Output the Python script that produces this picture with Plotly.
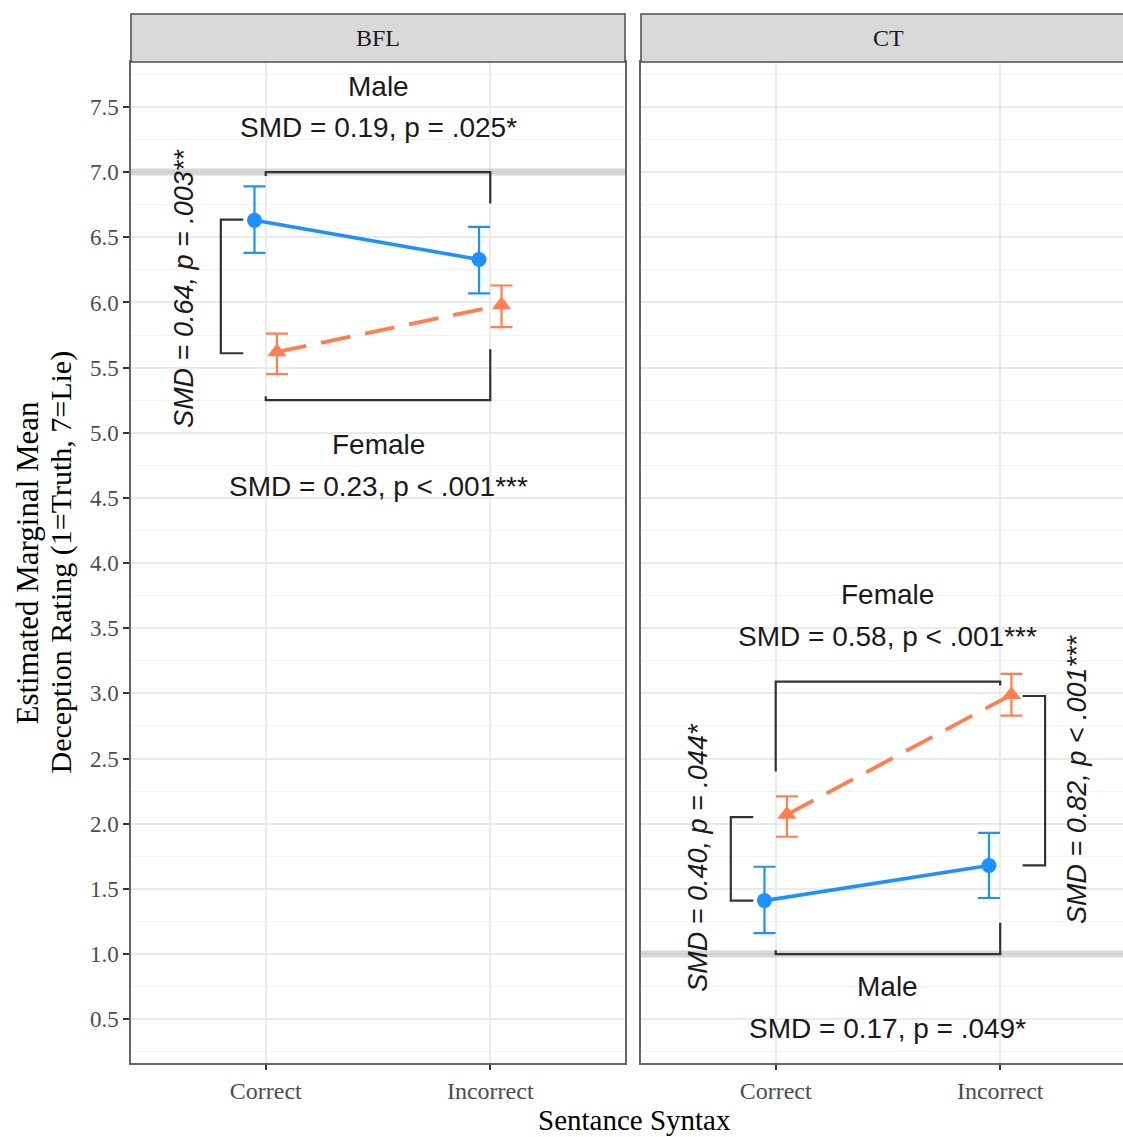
import plotly.graph_objects as go

# ---------------- data ----------------
panels = ["BFL", "CT"]
categories = ["Correct", "Incorrect"]
cat_pos = [0, 1]
dodge = 0.05

male_mean = {"BFL": [6.63, 6.33], "CT": [1.41, 1.68]}
male_lo = {"BFL": [6.38, 6.07], "CT": [1.16, 1.43]}
male_hi = {"BFL": [6.89, 6.58], "CT": [1.67, 1.93]}

female_mean = {"BFL": [5.62, 5.98], "CT": [2.07, 2.99]}
female_lo = {"BFL": [5.45, 5.81], "CT": [1.90, 2.83]}
female_hi = {"BFL": [5.76, 6.13], "CT": [2.21, 3.15]}

y_ticks = [0.5, 1.0, 1.5, 2.0, 2.5, 3.0, 3.5, 4.0, 4.5, 5.0, 5.5, 6.0, 6.5, 7.0, 7.5]
ref_line_y = {"BFL": 7.0, "CT": 1.0}

# brackets: (x list, y list)
brackets = {
    "BFL": [
        ([0, 0, 1, 1], [6.97, 7.0, 7.0, 6.76]),
        ([0, 0, 1, 1], [5.28, 5.25, 5.25, 5.64]),
        ([-0.1, -0.2, -0.2, -0.1], [6.635, 6.635, 5.61, 5.61]),
    ],
    "CT": [
        ([0, 0, 1, 1], [2.40, 3.09, 3.09, 3.06]),
        ([0, 0, 1, 1], [1.03, 1.0, 1.0, 1.24]),
        ([-0.1, -0.2, -0.2, -0.1], [2.05, 2.05, 1.41, 1.41]),
        ([1.1, 1.2, 1.2, 1.1], [2.98, 2.98, 1.68, 1.68]),
    ],
}

# labels: (x, y, text, angle)
labels = {
    "BFL": [
        (0.5, 7.66, "Male", 0),
        (0.5, 7.34, "SMD = 0.19, p = .025*", 0),
        (0.5, 4.91, "Female", 0),
        (0.5, 4.59, "SMD = 0.23, p < .001***", 0),
        (-0.365, 6.11, "<i>SMD = 0.64, p = .003**</i>", -90),
    ],
    "CT": [
        (0.5, 3.76, "Female", 0),
        (0.5, 3.44, "SMD = 0.58, p < .001***", 0),
        (0.5, 0.75, "Male", 0),
        (0.5, 0.43, "SMD = 0.17, p = .049*", 0),
        (-0.35, 1.74, "<i>SMD = 0.40, p = .044*</i>", -90),
        (1.345, 2.34, "<i>SMD = 0.82, p < .001***</i>", -90),
    ],
}

BLUE = "#1E90FF"
ORANGE = "#FF7F50"
BRACKET = "#333333"

fig = go.Figure()
axis_ids = {"BFL": ("x", "y"), "CT": ("x2", "y2")}

for p in panels:
    xa, ya = axis_ids[p]
    fig.add_trace(go.Scatter(
        x=[-0.6, 1.6], y=[ref_line_y[p]] * 2, mode="lines",
        line=dict(color="rgba(200,200,200,0.7)", width=7),
        xaxis=xa, yaxis=ya, hoverinfo="skip", showlegend=False))
    for bx, by in brackets[p]:
        fig.add_trace(go.Scatter(
            x=bx, y=by, mode="lines", line=dict(color=BRACKET, width=2.2),
            xaxis=xa, yaxis=ya, hoverinfo="skip", showlegend=False))
    # Male
    m = male_mean[p]
    fig.add_trace(go.Scatter(
        x=[c - dodge for c in cat_pos], y=m, mode="lines+markers",
        line=dict(color=BLUE, width=3.6),
        marker=dict(symbol="circle", size=15, color=BLUE),
        error_y=dict(type="data", symmetric=False,
                     array=[h - v for h, v in zip(male_hi[p], m)],
                     arrayminus=[v - l for v, l in zip(m, male_lo[p])],
                     color=BLUE, thickness=2.2, width=11),
        xaxis=xa, yaxis=ya, name="Male", showlegend=False))
    # Female
    f = female_mean[p]
    fig.add_trace(go.Scatter(
        x=[c + dodge for c in cat_pos], y=f, mode="lines+markers",
        line=dict(color=ORANGE, width=3.8, dash="30px,15px"),
        marker=dict(symbol="triangle-up", size=17, color=ORANGE),
        error_y=dict(type="data", symmetric=False,
                     array=[h - v for h, v in zip(female_hi[p], f)],
                     arrayminus=[v - l for v, l in zip(f, female_lo[p])],
                     color=ORANGE, thickness=2.2, width=11),
        xaxis=xa, yaxis=ya, name="Female", showlegend=False))

annotations = []
for p in panels:
    xa, ya = axis_ids[p]
    for lx, ly, txt, ang in labels[p]:
        annotations.append(dict(
            x=lx, y=ly, xref=xa, yref=ya, text=txt, showarrow=False,
            textangle=ang, xanchor="center", yanchor="middle",
            font=dict(family="Liberation Sans, Arial", size=28 if ang == 0 else 27,
                      color="#1a1a1a")))

W, H = 1123, 1137
L, R, T, B = 131, 0, 62, 74
pw = W - L - R
ph = H - T - B
d1 = [0, 494 / pw]
d2 = [(641 - L) / pw, 1.0]

strip_h = 48 / ph
shapes = []
for dom, p in zip([d1, d2], panels):
    shapes.append(dict(type="rect", xref="paper", yref="paper",
                       x0=dom[0], x1=dom[1] + (0.01 if p == "CT" else 0), y0=1, y1=1 + strip_h,
                       fillcolor="#d9d9d9", line=dict(color="#4d4d4d", width=1.5), layer="above"))
    annotations.append(dict(x=(dom[0] + dom[1]) / 2 if p == "BFL" else (dom[0] + (641 + 494 - L) / pw) / 2,
                            y=1 + strip_h / 2, xref="paper", yref="paper",
                            text=p, showarrow=False, xanchor="center", yanchor="middle",
                            font=dict(family="Liberation Serif", size=24, color="#1a1a1a")))

# axis titles
annotations.append(dict(x=(27 - L) / pw, y=0.5, xref="paper", yref="paper",
                        text="Estimated Marginal Mean", textangle=-90, showarrow=False,
                        xanchor="center", yanchor="middle",
                        font=dict(family="Liberation Serif", size=31, color="black")))
annotations.append(dict(x=(60 - L) / pw, y=0.5, xref="paper", yref="paper",
                        text="Deception Rating (1=Truth, 7=Lie)", textangle=-90, showarrow=False,
                        xanchor="center", yanchor="middle",
                        font=dict(family="Liberation Serif", size=30, color="black")))
annotations.append(dict(x=(634 - L) / pw, y=(T + ph - 1120) / ph, xref="paper", yref="paper",
                        text="Sentance Syntax", showarrow=False,
                        xanchor="center", yanchor="middle",
                        font=dict(family="Liberation Serif", size=29, color="black")))

grid = "#ebebeb"
common_x = dict(tickvals=cat_pos, ticktext=categories, showgrid=True, gridcolor=grid, gridwidth=1.5,
                zeroline=False, ticks="outside", ticklen=5, tickwidth=1.5, tickcolor="#333",
                tickfont=dict(family="Liberation Serif", size=24, color="#4d4d4d"),
                showline=True, linecolor="#666", linewidth=1.5)
common_y = dict(range=[0.164, 7.845], tickvals=y_ticks, ticktext=[f"{v:.1f}" for v in y_ticks],
                showgrid=True, gridcolor=grid, gridwidth=1.5, zeroline=False,
                minor=dict(dtick=0.25, tick0=0, showgrid=True, gridcolor="#f3f3f3", gridwidth=0.8),
                ticks="outside", ticklen=6, tickwidth=1.5, tickcolor="#333",
                tickfont=dict(family="Liberation Serif", size=23, color="#4d4d4d"),
                showline=True, linecolor="#666", linewidth=1.5)

fig.update_layout(
    width=W, height=H, margin=dict(l=L, r=R, t=T, b=B),
    paper_bgcolor="white", plot_bgcolor="white", showlegend=False,
    xaxis=dict(domain=d1, range=[-0.6, 1.6], anchor="y", mirror=True, **common_x),
    xaxis2=dict(domain=d2, range=[-0.6, -0.6 + (W - 641) / 224.5], anchor="y2", mirror=True, **common_x),
    yaxis=dict(domain=[0, 1], anchor="x", mirror=True, **common_y),
    yaxis2=dict(domain=[0, 1], anchor="x2", matches="y", showticklabels=False, mirror=False,
                **{k: v for k, v in common_y.items() if k not in ("tickfont",)}),
    annotations=annotations, shapes=shapes,
)
fig.update_yaxes(ticks="", selector=dict(anchor="x2"))

fig.write_html("out.html")
